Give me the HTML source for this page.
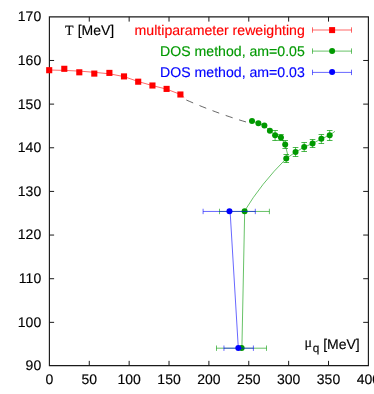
<!DOCTYPE html>
<html><head><meta charset="utf-8"><title>plot</title>
<style>
html,body{margin:0;padding:0;background:#fff;overflow:hidden;}
svg{display:block;position:absolute;left:0;top:0;}
text{font-family:"Liberation Sans",sans-serif;font-size:14px;text-rendering:geometricPrecision;}
.ser{font-family:"Liberation Serif",serif;}
</style></head><body>
<svg width="374" height="394" viewBox="0 0 374 394">
<rect x="0" y="0" width="374" height="394" fill="#ffffff"/>
<g style="mix-blend-mode:multiply">
<g stroke="#1a1a1a" stroke-width="1" fill="none" stroke-linecap="butt">
<path d="M49.40 16.80 H368.40 V365.65 H49.40 Z" stroke-width="1.15"/>
<path d="M49.40 322.35 h4.70 M368.40 322.35 h-5.20"/>
<path d="M49.40 278.71 h4.70 M368.40 278.71 h-5.20"/>
<path d="M49.40 235.06 h4.70 M368.40 235.06 h-5.20"/>
<path d="M49.40 191.41 h4.70 M368.40 191.41 h-5.20"/>
<path d="M49.40 147.77 h4.70 M368.40 147.77 h-5.20"/>
<path d="M49.40 104.12 h4.70 M368.40 104.12 h-5.20"/>
<path d="M49.40 60.48 h4.70 M368.40 60.48 h-5.20"/>
<path d="M89.28 365.65 v-4.80 M89.28 16.80 v4.80"/>
<path d="M129.15 365.65 v-4.80 M129.15 16.80 v4.80"/>
<path d="M169.03 365.65 v-4.80 M169.03 16.80 v4.80"/>
<path d="M208.90 365.65 v-4.80 M208.90 16.80 v4.80"/>
<path d="M248.78 365.65 v-4.80 M248.78 16.80 v4.80"/>
<path d="M288.65 365.65 v-4.80 M288.65 16.80 v4.80"/>
<path d="M328.52 365.65 v-4.80 M328.52 16.80 v4.80"/>
</g>
<g fill="#000" stroke="#000" stroke-width="0.15">
<text x="41.2" y="370.12" text-anchor="end">90</text>
<text x="41.2" y="326.53" text-anchor="end">100</text>
<text x="41.2" y="282.94" text-anchor="end">110</text>
<text x="41.2" y="239.35" text-anchor="end">120</text>
<text x="41.2" y="195.76" text-anchor="end">130</text>
<text x="41.2" y="152.17" text-anchor="end">140</text>
<text x="41.2" y="108.58" text-anchor="end">150</text>
<text x="41.2" y="64.99" text-anchor="end">160</text>
<text x="41.2" y="21.40" text-anchor="end">170</text>
<text x="49.40" y="384.2" text-anchor="middle">0</text>
<text x="89.28" y="384.2" text-anchor="middle">50</text>
<text x="129.15" y="384.2" text-anchor="middle">100</text>
<text x="169.03" y="384.2" text-anchor="middle">150</text>
<text x="208.90" y="384.2" text-anchor="middle">200</text>
<text x="248.78" y="384.2" text-anchor="middle">250</text>
<text x="288.65" y="384.2" text-anchor="middle">300</text>
<text x="328.52" y="384.2" text-anchor="middle">350</text>
<text x="368.40" y="384.2" text-anchor="middle">400</text>
</g>
<text x="65.1" y="34.75" fill="#000" stroke="#000" stroke-width="0.15"><tspan class="ser">T </tspan><tspan x="77.7">[MeV]</tspan></text>
<text x="304.4" y="347.1" fill="#000" stroke="#000" stroke-width="0.15"><tspan class="ser">&#956;</tspan><tspan dx="0.8" dy="4.6" style="font-size:11.8px">q</tspan><tspan dy="-2.8"> [MeV]</tspan></text>
<text x="304.8" y="35.2" style="font-size:14.12px" text-anchor="end" fill="#ff0000" stroke="#ff0000" stroke-width="0.15">multiparameter reweighting</text>
<text x="304.8" y="56.2" style="font-size:14.12px" text-anchor="end" fill="#009900" stroke="#009900" stroke-width="0.15">DOS method, am=0.05</text>
<text x="304.8" y="77.1" style="font-size:14.12px" text-anchor="end" fill="#0000ff" stroke="#0000ff" stroke-width="0.15">DOS method, am=0.03</text>
<path d="M312.50 30.00 H351.50 M312.50 27.30 v5.40 M351.50 27.30 v5.40" stroke="#ff0000" stroke-width="0.60" fill="none"/>
<rect x="329.10" y="27.10" width="6.00" height="6.00" fill="#ff0000"/>
<path d="M312.50 51.10 H351.50 M312.50 48.40 v5.40 M351.50 48.40 v5.40" stroke="#009900" stroke-width="0.60" fill="none"/>
<circle cx="332.10" cy="51.00" r="3.00" fill="#009900"/>
<path d="M312.50 72.40 H351.50 M312.50 69.70 v5.40 M351.50 69.70 v5.40" stroke="#0000ff" stroke-width="0.60" fill="none"/>
<circle cx="332.10" cy="72.10" r="3.00" fill="#0000ff"/>
<polyline points="49.20,70.00 64.40,70.40 79.40,71.10 94.30,72.30 109.40,73.80 124.00,76.60 138.20,81.50 152.40,85.60 166.50,89.10 180.30,94.40 184.20,97.40" stroke="#ff0000" stroke-width="0.60" fill="none" stroke-linejoin="round"/>
<rect x="46.15" y="67.15" width="6.10" height="6.10" fill="#ff0000"/>
<rect x="61.25" y="65.75" width="6.10" height="6.10" fill="#ff0000"/>
<rect x="76.25" y="69.25" width="6.10" height="6.10" fill="#ff0000"/>
<rect x="91.25" y="70.55" width="6.10" height="6.10" fill="#ff0000"/>
<rect x="106.35" y="69.85" width="6.10" height="6.10" fill="#ff0000"/>
<rect x="120.95" y="73.35" width="6.10" height="6.10" fill="#ff0000"/>
<rect x="135.15" y="78.65" width="6.10" height="6.10" fill="#ff0000"/>
<rect x="149.40" y="82.45" width="6.10" height="6.10" fill="#ff0000"/>
<rect x="163.55" y="85.85" width="6.10" height="6.10" fill="#ff0000"/>
<rect x="177.35" y="91.45" width="6.10" height="6.10" fill="#ff0000"/>
<path d="M186.3 100.0 Q 220 114.7 252 123.7" stroke="#000" stroke-width="0.6" fill="none" stroke-dasharray="7.3 6.75"/>
<path d="M252.00 120.90 L258.40 123.30 L264.40 125.60 L269.90 130.70 L275.10 135.20 L280.95 137.60 L285.20 144.50 L288.2 156.8" stroke="#009900" stroke-width="0.60" fill="none" stroke-linejoin="round"/>
<path d="M244.6 211.0 Q 260.9 183.8 286.25 158.5 L295.55 152.10 L304.20 147.10 L312.55 143.50 L321.35 138.80 L329.70 135.20 L335.0 131.3" stroke="#009900" stroke-width="0.60" fill="none" stroke-linejoin="round"/>
<path d="M275.10 130.50 V140.50 M272.30 130.50 h5.60 M272.30 140.50 h5.60" stroke="#009900" stroke-width="0.70" fill="none"/>
<path d="M280.95 134.50 V140.50 M278.15 134.50 h5.60 M278.15 140.50 h5.60" stroke="#009900" stroke-width="0.70" fill="none"/>
<path d="M285.20 140.50 V148.50 M282.40 140.50 h5.60 M282.40 148.50 h5.60" stroke="#009900" stroke-width="0.70" fill="none"/>
<path d="M286.25 154.50 V162.50 M283.45 154.50 h5.60 M283.45 162.50 h5.60" stroke="#009900" stroke-width="0.70" fill="none"/>
<path d="M295.55 147.50 V156.50 M292.75 147.50 h5.60 M292.75 156.50 h5.60" stroke="#009900" stroke-width="0.70" fill="none"/>
<path d="M304.20 142.50 V151.50 M301.40 142.50 h5.60 M301.40 151.50 h5.60" stroke="#009900" stroke-width="0.70" fill="none"/>
<path d="M312.55 139.50 V147.50 M309.75 139.50 h5.60 M309.75 147.50 h5.60" stroke="#009900" stroke-width="0.70" fill="none"/>
<path d="M321.35 134.50 V143.50 M318.55 134.50 h5.60 M318.55 143.50 h5.60" stroke="#009900" stroke-width="0.70" fill="none"/>
<path d="M329.70 130.50 V140.50 M326.90 130.50 h5.60 M326.90 140.50 h5.60" stroke="#009900" stroke-width="0.70" fill="none"/>
<circle cx="252.00" cy="120.90" r="3.00" fill="#009900"/>
<circle cx="258.40" cy="123.30" r="3.00" fill="#009900"/>
<circle cx="264.40" cy="125.60" r="3.00" fill="#009900"/>
<circle cx="269.90" cy="130.70" r="3.00" fill="#009900"/>
<circle cx="275.10" cy="135.20" r="3.00" fill="#009900"/>
<circle cx="280.95" cy="137.60" r="3.00" fill="#009900"/>
<circle cx="285.20" cy="144.50" r="3.00" fill="#009900"/>
<circle cx="286.25" cy="158.50" r="3.00" fill="#009900"/>
<circle cx="295.55" cy="152.10" r="3.00" fill="#009900"/>
<circle cx="304.20" cy="147.10" r="3.00" fill="#009900"/>
<circle cx="312.55" cy="143.50" r="3.00" fill="#009900"/>
<circle cx="321.35" cy="138.80" r="3.00" fill="#009900"/>
<circle cx="329.70" cy="135.20" r="3.00" fill="#009900"/>
<path d="M244.7 211.2 L241.9 348.0" stroke="#009900" stroke-width="0.60" fill="none"/>
<path d="M219.50 211.45 H269.40 M219.50 208.75 v5.40 M269.40 208.75 v5.40" stroke="#009900" stroke-width="0.60" fill="none"/>
<path d="M216.50 348.20 H266.50 M216.50 345.50 v5.40 M266.50 345.50 v5.40" stroke="#009900" stroke-width="0.60" fill="none"/>
<circle cx="244.60" cy="211.20" r="3.00" fill="#009900"/>
<circle cx="241.65" cy="348.10" r="3.00" fill="#009900"/>
<path d="M230.1 211.2 L238.3 348.0" stroke="#0000ff" stroke-width="0.60" fill="none"/>
<path d="M203.10 211.45 H255.30 M203.10 208.75 v5.40 M255.30 208.75 v5.40" stroke="#0000ff" stroke-width="0.60" fill="none"/>
<path d="M223.95 348.20 H253.40 M223.95 345.50 v5.40 M253.40 345.50 v5.40" stroke="#0000ff" stroke-width="0.60" fill="none"/>
<circle cx="229.45" cy="211.20" r="3.00" fill="#0000ff"/>
<circle cx="238.30" cy="348.10" r="3.00" fill="#0000ff"/>
</g>
</svg>
</body></html>
